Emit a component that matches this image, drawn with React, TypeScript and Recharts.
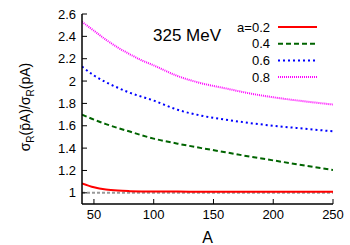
import React from "react";
import { LineChart, Line, XAxis, YAxis, ReferenceLine, Label } from "recharts";

const massNumbers = [40, 50, 60, 70, 80, 90, 100, 120, 140, 160, 180, 200, 225, 250];
const ratioA02 = [1.085, 1.05, 1.03, 1.02, 1.015, 1.012, 1.011, 1.011, 1.01, 1.01, 1.01, 1.009, 1.009, 1.009];
const ratioA04 = [1.7, 1.655, 1.615, 1.58, 1.548, 1.515, 1.485, 1.44, 1.4, 1.363, 1.325, 1.29, 1.247, 1.205];
const ratioA06 = [2.13, 2.05, 1.99, 1.94, 1.895, 1.86, 1.825, 1.743, 1.69, 1.655, 1.625, 1.6, 1.575, 1.55];
const ratioA08 = [2.53, 2.45, 2.37, 2.3, 2.24, 2.185, 2.14, 2.045, 1.98, 1.935, 1.89, 1.855, 1.82, 1.79];

const xTicks = [50, 100, 150, 200, 250];
const yTicks = [1, 1.2, 1.4, 1.6, 1.8, 2, 2.2, 2.4, 2.6];

const series = [
  { key: "a02", label: "a=0.2", color: "#ff0000", dash: undefined, width: 2 },
  { key: "a04", label: "0.4", color: "#006400", dash: "5 3", width: 2 },
  { key: "a06", label: "0.6", color: "#0000ff", dash: "2 3", width: 2 },
  { key: "a08", label: "0.8", color: "#ff00ff", dash: "1 1", width: 2 },
];

const data = massNumbers.map((A, i) => ({
  A,
  a02: ratioA02[i],
  a04: ratioA04[i],
  a06: ratioA06[i],
  a08: ratioA08[i],
}));

const font = "'Liberation Sans', Arial, sans-serif";

function LegendBox() {
  return (
    <div style={{ position: "absolute", left: 150, top: 20, width: 200, height: 80, fontFamily: font }}>
      <div style={{ position: "absolute", left: 3, top: 6, fontSize: 17, lineHeight: "20px", color: "#000" }}>325 MeV</div>
      <svg width={200} height={80} style={{ position: "absolute", left: 0, top: 0 }}>
        {series.map((s, i) => (
          <g key={s.key}>
            <text x={120} y={7 + i * 16.7 + 4.5} fontSize={13} textAnchor="end" fill="#000" fontFamily={font}>
              {s.label}
            </text>
            <line
              x1={128}
              x2={167}
              y1={7 + i * 16.7}
              y2={7 + i * 16.7}
              stroke={s.color}
              strokeWidth={s.width}
              strokeDasharray={s.dash}
            />
          </g>
        ))}
      </svg>
    </div>
  );
}

function YTitle(props: any) {
  const vb = props.viewBox;
  const cx = vb.x + 30;
  const cy = vb.y + vb.height / 2 - 2;
  return (
    <text
      x={cx}
      y={cy}
      transform={`rotate(-90, ${cx}, ${cy})`}
      textAnchor="middle"
      fontSize={14}
      fontFamily={font}
      fill="#000"
    >
      σ<tspan fontSize={10} dy={4}>R</tspan>
      <tspan dy={-4}>(p̄A)/σ</tspan>
      <tspan fontSize={10} dy={4}>R</tspan>
      <tspan dy={-4}>(pA)</tspan>
    </text>
  );
}

export default function App() {
  return (
    <div style={{ position: "absolute", left: 0, top: 0, width: 350, height: 245, background: "#fff" }}>
      <LineChart width={350} height={245} data={data} margin={{ top: 14, right: 17, bottom: 0, left: 0 }}>
        <XAxis
          dataKey="A"
          type="number"
          domain={[40, 250]}
          ticks={xTicks}
          interval={0}
          height={41}
          tickSize={-5}
          tickMargin={11}
          axisLine={{ stroke: "#000", strokeWidth: 1.5 }}
          tickLine={{ stroke: "#000" }}
          tick={{ fill: "#000", fontSize: 13, fontFamily: font }}
          allowDataOverflow
        >
          <Label value="A" position="insideBottom" offset={2} fill="#000" fontSize={16} fontFamily={font} />
        </XAxis>
        <XAxis
          xAxisId="top"
          orientation="top"
          type="number"
          domain={[40, 250]}
          ticks={xTicks}
          interval={0}
          height={0}
          tickSize={-5}
          tick={false}
          axisLine={{ stroke: "#000", strokeWidth: 1.5 }}
          tickLine={{ stroke: "#000" }}
          allowDataOverflow
        />
        <YAxis
          type="number"
          domain={[0.9, 2.6]}
          ticks={yTicks}
          interval={0}
          width={82}
          tickSize={-5}
          tickMargin={11}
          axisLine={{ stroke: "#000", strokeWidth: 1.5 }}
          tickLine={{ stroke: "#000" }}
          tick={{ fill: "#000", fontSize: 13, fontFamily: font }}
          allowDataOverflow
        >
          <Label content={YTitle} />
        </YAxis>
        <YAxis
          yAxisId="right"
          orientation="right"
          type="number"
          domain={[0.9, 2.6]}
          ticks={yTicks}
          interval={0}
          width={0}
          tickSize={-5}
          tick={false}
          axisLine={{ stroke: "#000", strokeWidth: 1.5 }}
          tickLine={{ stroke: "#000" }}
          allowDataOverflow
        />
        <ReferenceLine y={1} stroke="#999999" strokeWidth={2} strokeDasharray="3 2" />
        {series.map((s) => (
          <Line
            key={s.key}
            dataKey={s.key}
            type="monotone"
            stroke={s.color}
            strokeWidth={s.width}
            strokeDasharray={s.dash}
            dot={false}
            isAnimationActive={false}
          />
        ))}
      </LineChart>
      <LegendBox />
    </div>
  );
}
